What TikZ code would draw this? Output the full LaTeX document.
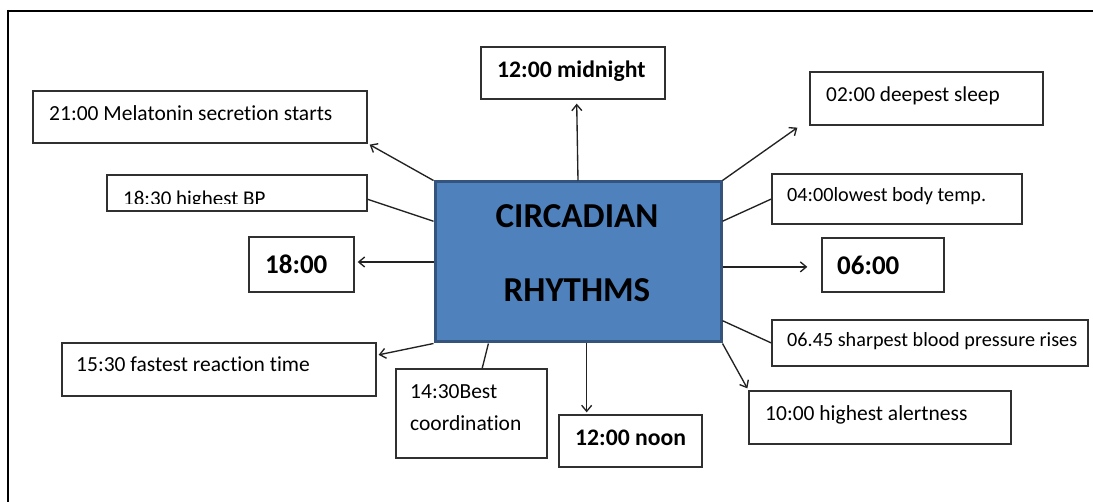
\documentclass[tikz,border=0pt]{standalone}
\usepackage{fontspec}
\setmainfont{Carlito}[Ligatures={NoCommon}]
\usetikzlibrary{arrows.meta,calc,fit}

\definecolor{boxline}{HTML}{303030}
\definecolor{wireclr}{HTML}{222222}
\definecolor{corefill}{HTML}{4F81BD}
\definecolor{coreline}{HTML}{34547E}

\tikzset{
  box/.style={draw=boxline, line width=1.3pt, fill=white, inner sep=0pt},
  core/.style={draw=coreline, line width=3pt, fill=corefill, inner sep=0pt},
  txt/.style={anchor=base west, inner sep=0pt, font=\fontsize{21.5}{26}\selectfont},
  txtsm/.style={txt, font=\fontsize{20.2}{24}\selectfont},
  txtb/.style={txt, font=\bfseries\fontsize{23.7}{28}\selectfont},
  txtbig/.style={txt, font=\bfseries\fontsize{27}{32}\selectfont},
  coretxt/.style={anchor=base, inner sep=0pt, font=\bfseries\fontsize{35}{40}\selectfont},
  wire/.style={draw=wireclr, line width=1.35pt},
  arr/.style={wire, -{Straight Barb[length=6pt,width=10pt,line width=1.35pt]}},
}

\begin{document}
\begin{tikzpicture}[x=1pt,y=-1pt]
\useasboundingbox (0,0) rectangle (1093,502);

% page frame (top and left edges)
\draw[line width=2pt] (7,11) -- (1093,11);
\draw[line width=2pt] (8,10) -- (8,502);

% central block
\node[core, fit={(435,182) (721,342)}] (cr) {};
\node[coretxt] (crA) at (577,228) {CIRCADIAN};
\node[coretxt] (crB) at (577,302) {RHYTHMS};

% surrounding boxes
\node[box, fit={(33,91) (367,143)}] (mel) {};
\node[txt] (melT) at (49,121) {21:00 Melatonin secretion starts};

\node[box, fit={(107,175) (367,211)}] (bp) {};
\begin{scope}
  \clip (107,175) rectangle (367,203.5);
  \node[txt, font=\fontsize{21}{26}\selectfont] (bpT) at (123,206) {18:30 highest BP};
\end{scope}

\node[box, fit={(249,237) (354,292)}] (t18) {};
\node[txtbig] (t18T) at (265,274) {18:00};

\node[box, fit={(62,343) (376,396)}] (react) {};
\node[txt] (reactT) at (76,372) {15:30 fastest reaction time};

\node[box, fit={(396,369) (547,458)}] (coord) {};
\node[txt] (coordA) at (410,399) {14:30Best};
\node[txt] (coordB) at (410,431) {coordination};

\node[box, fit={(559,415) (702,467)}] (noon) {};
\node[txtb] (noonT) at (575,446) {12:00 noon};

\node[box, fit={(481,47) (665,99)}] (mid) {};
\node[txtb] (midT) at (497,78) {12:00 midnight};

\node[box, fit={(810,72) (1043,125)}] (deep) {};
\node[txt, font=\fontsize{21.3}{26}\selectfont] (deepT) at (826,102) {02:00 deepest sleep};

\node[box, fit={(772,174) (1022,224)}] (low) {};
\node[txtsm] (lowT) at (787,202) {04:00lowest body temp.};

\node[box, fit={(822,238) (944,292)}] (t06) {};
\node[txtbig] (t06T) at (837,275) {06:00};

\node[box, fit={(772,320) (1088,366)}] (bpr) {};
\node[txtsm] (bprT) at (787,347) {06.45 sharpest blood pressure rises};

\node[box, fit={(749,391) (1011,444)}] (alert) {};
\node[txt] (alertT) at (765,421) {10:00 highest alertness};

% connectors
\draw[arr] (cr.north west) -- ($(mel.south east)+(2,1)$);
\draw[wire] ($(cr.north west)!0.25!(cr.south west)$) -- ($(bp.north east)!0.67!(bp.south east)$);
\draw[arr, shorten >=3pt] (cr.west) -- (cr.west -| t18.east);
\draw[arr] (cr.south west) -- ($(react.north east)!0.23!(react.south east)+(2,0)$);
\draw[wire] ($(cr.south west)!0.19!(cr.south east)$) -- ($(coord.north west)!0.57!(coord.north east)$);
\coordinate (noonTop) at ($(cr.south west)!0.53!(cr.south east)$);
\draw[arr, shorten >=2pt] (noonTop) -- (noonTop |- noon.north);
\draw[arr] (cr.south east) -- ($(alert.north west)+(-1,-2)$);
\draw[wire] ($(cr.north east)!0.86!(cr.south east)$) -- (bpr.west);
\coordinate (sixOut) at ($(cr.north east)!0.53!(cr.south east)$);
\draw[arr, shorten >=14pt] (sixOut) -- (sixOut -| t06.west);
\draw[wire] ($(cr.north east)!0.25!(cr.south east)$) -- (low.west);
\draw[arr] (cr.north east) -- ($(deep.south west)+(-12,2)$);
\coordinate (midFoot) at ($(mid.south west)!0.52!(mid.south east)$);
\draw[arr] (cr.north) -- ($(midFoot)+(0,4)$);
\end{tikzpicture}
\end{document}
